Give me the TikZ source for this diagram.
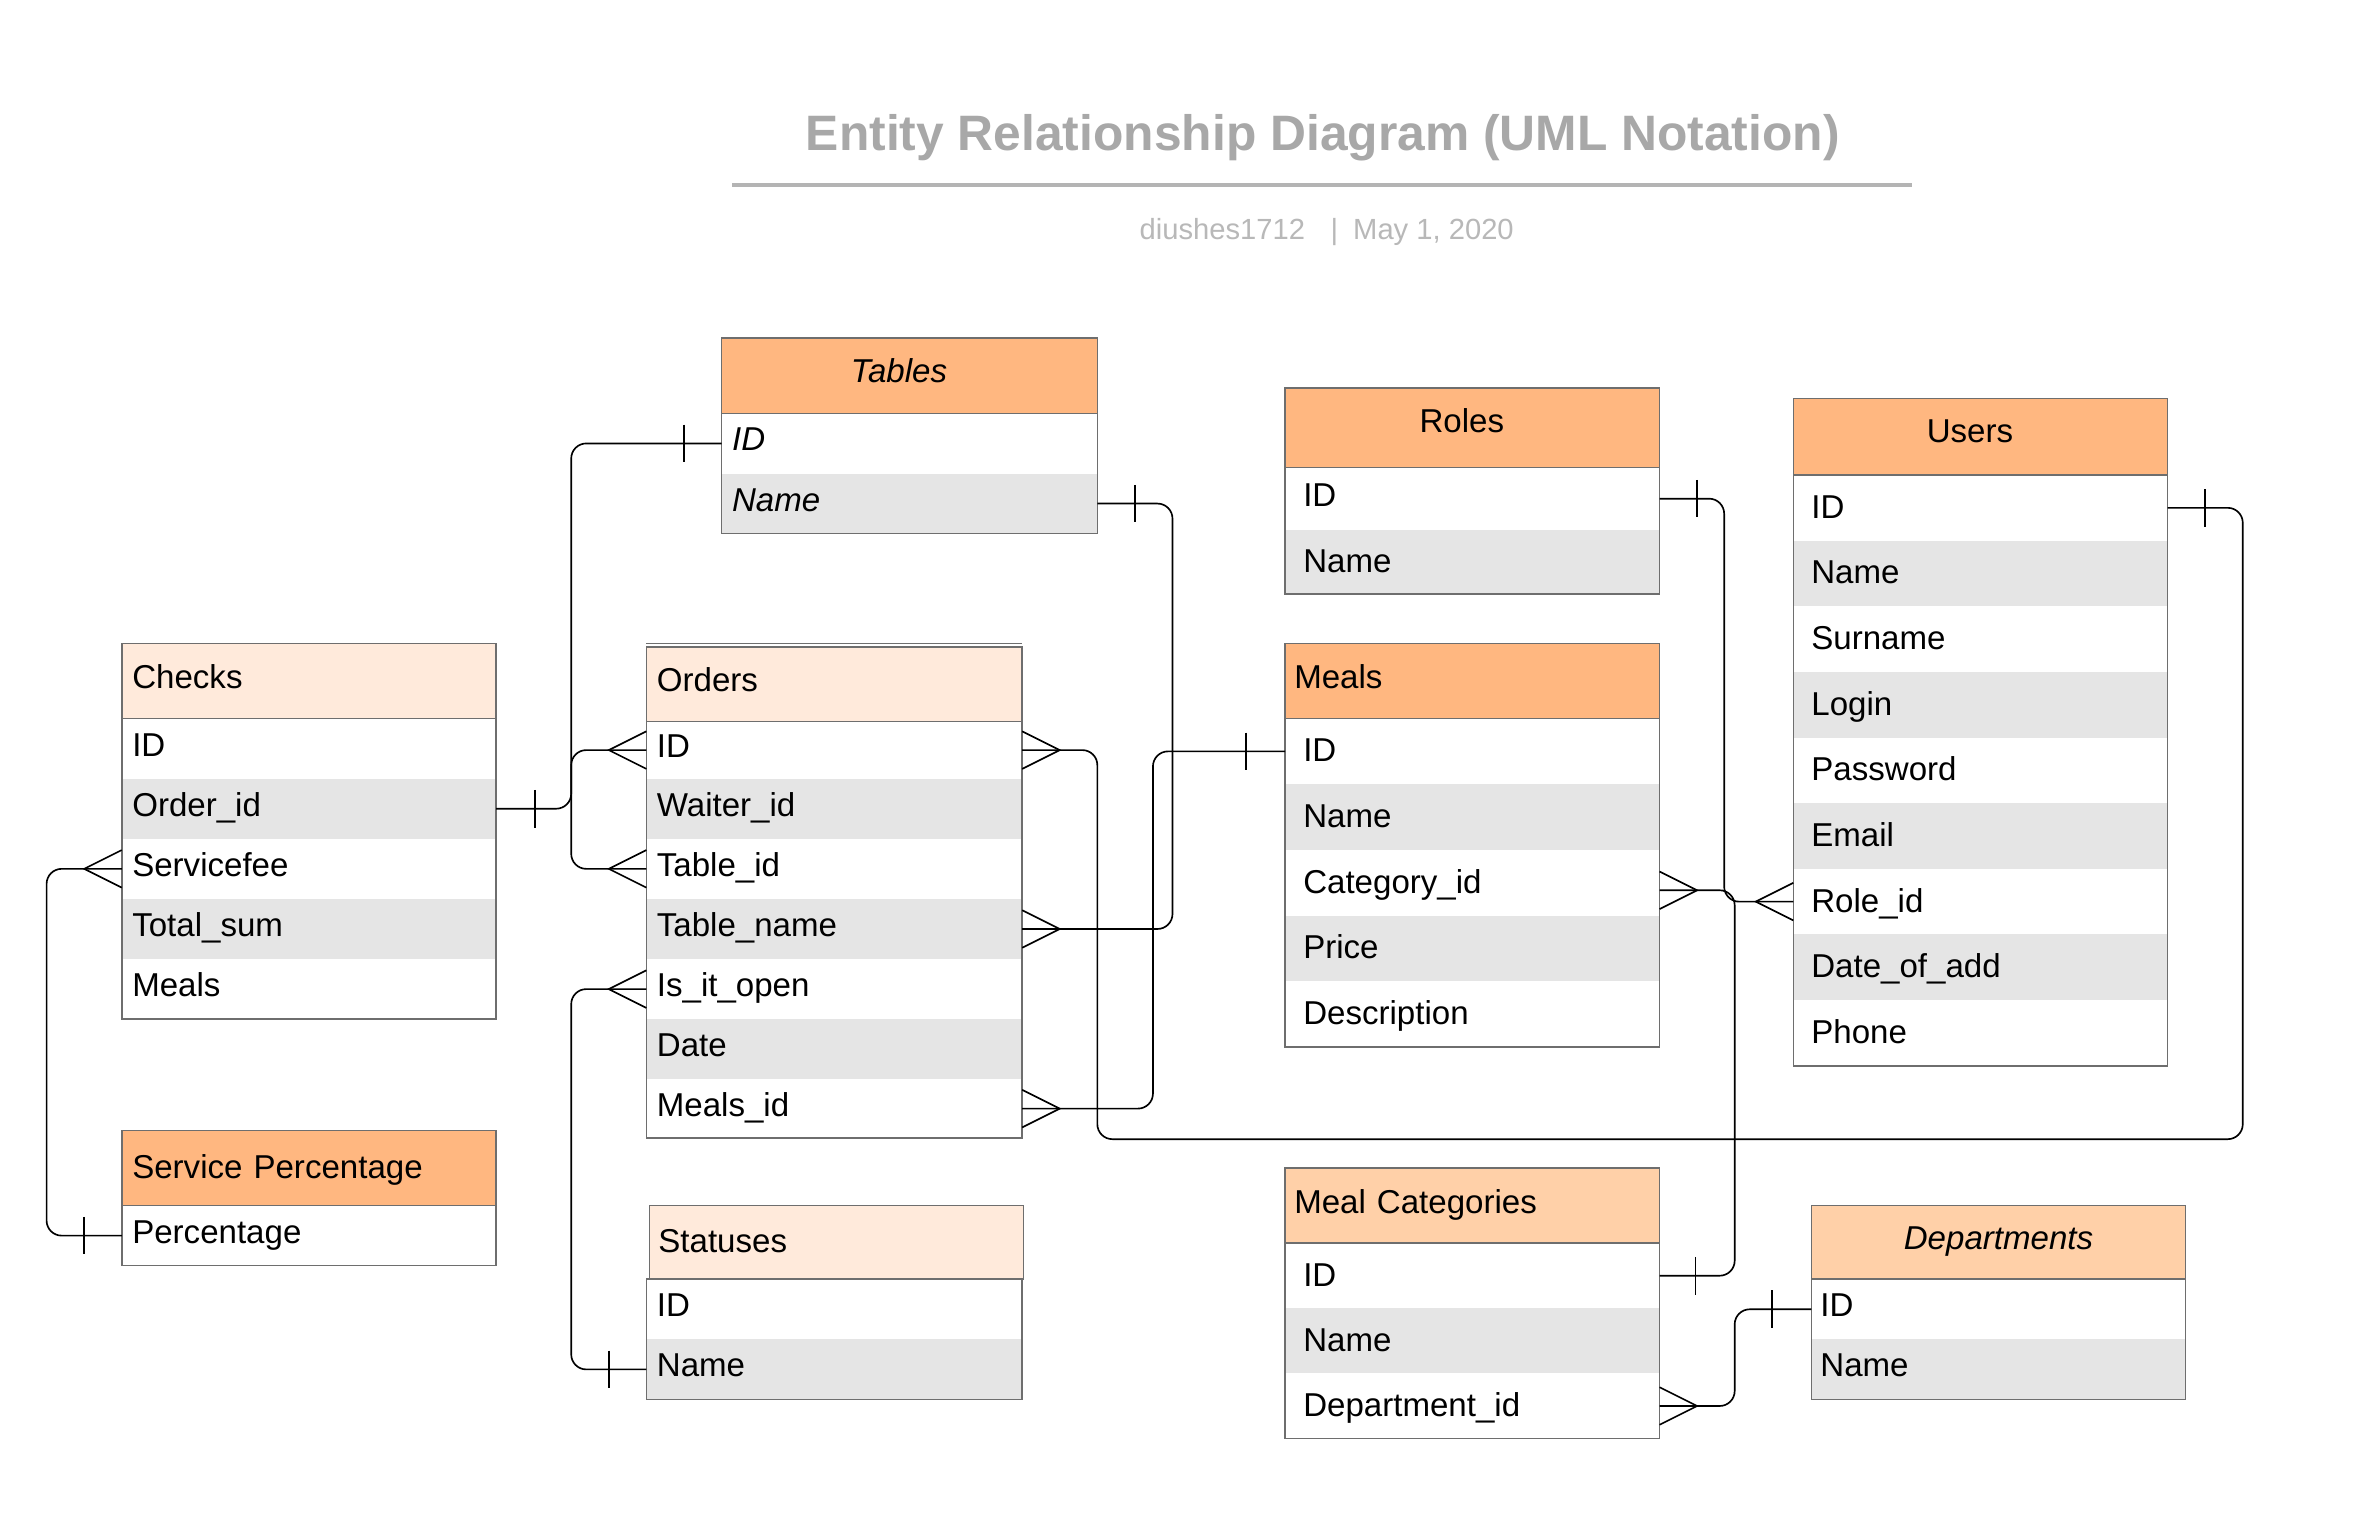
\documentclass[tikz,border=0pt]{standalone}
\usepackage{fontspec}
\setmainfont{Liberation Sans}
\usetikzlibrary{calc}
\definecolor{hdrdark}{RGB}{255,183,128}
\definecolor{hdrmid}{RGB}{255,208,168}
\definecolor{hdrlight}{RGB}{255,234,219}
\definecolor{rowgray}{RGB}{229,229,229}
\definecolor{bordc}{RGB}{110,110,110}
\definecolor{titlec}{RGB}{168,168,168}
\definecolor{subc}{RGB}{184,184,184}
\definecolor{rulec}{RGB}{180,180,180}
\newcommand{\erfont}{\fontsize{22}{26}\selectfont}
\tikzset{
  cell/.code 2 args={\pgfmathsetmacro\cellTW{#1-2*(#2)}\tikzset{minimum width=#1pt, inner xsep=#2pt, text width=\cellTW pt}},
  base/.style={anchor=north west, outer sep=0pt, inner ysep=0pt, text height=16pt, text depth=6pt, font=\erfont, align=left},
  tall/.style={text height=18pt, text depth=4pt},
  hdrbox/.style={base, draw=bordc, line width=1pt},
  rowW/.style={base, fill=white},
  rowG/.style={base, fill=rowgray},
  frame/.style={draw=bordc, line width=1pt},
  conn/.style={draw=black, line width=1.1pt, rounded corners=10pt},
  erm/.style={draw=black, line width=1.1pt},
}
\newcommand{\ERbar}[2]{\draw[erm] ([xshift=#2pt]#1) ++(0,-12.5) -- ++(0,25);}
\newcommand{\ERcrow}[2]{\draw[erm] ([yshift=12.5pt]#1) -- ([xshift=#2pt]#1) -- ([yshift=-12.5pt]#1);}
\newcommand{\shl}{\hspace*{-14pt}}
\begin{document}
\begin{tikzpicture}[x=1pt,y=-1pt]
\fill[white] (0,0) rectangle (1568,1008);
\useasboundingbox (0,0) rectangle (1568,1008);

% Title
\node[anchor=base, font=\fontsize{33.1}{40}\selectfont\bfseries, text=titlec, inner sep=0pt] (title) at (880,100) {Entity Relationship Diagram (UML Notation)};
\draw[rulec, line width=2.5pt] (487,123) -- (1272,123);
\node[anchor=base west, font=\fontsize{19.4}{23}\selectfont, text=subc, inner sep=0pt] (subtitle) at (758,159) {diushes1712\hspace{17pt}|\hspace{10pt}May 1, 2020};

% ---------- Tables ----------
\node[rowW, cell={250}{7}, minimum height=40pt, font=\erfont\itshape] (tables-id) at (480,275) {ID};
\node[rowG, cell={250}{7}, minimum height=40pt, font=\erfont\itshape] (tables-name) at (480,315) {Name};
\draw[frame] (tables-id.north west) rectangle (tables-name.south east);
\node[hdrbox, cell={250}{7}, minimum height=50pt, fill=hdrdark, align=center, font=\erfont\itshape, text height=17pt, text depth=8pt] (tables) at (480,225) {\shl Tables};

% ---------- Roles ----------
\node[rowW, cell={249}{12}, minimum height=41.5pt] (roles-id) at (855,311) {ID};
\node[rowG, cell={249}{12}, minimum height=42.5pt, tall] (roles-name) at (855,352.5) {Name};
\draw[frame] (roles-id.north west) rectangle (roles-name.south east);
\node[hdrbox, cell={249}{12}, minimum height=53pt, fill=hdrdark, align=center, text height=16pt, text depth=9pt] (roles) at (855,258) {\shl Roles};

% ---------- Users ----------
\node[rowW, tall, cell={249}{12}, minimum height=43.67pt] (users-id) at (1193,316) {ID};
\node[rowG, tall, cell={249}{12}, minimum height=43.67pt] (users-name) at (1193,359.67) {Name};
\node[rowW, tall, cell={249}{12}, minimum height=43.67pt] (users-surname) at (1193,403.33) {Surname};
\node[rowG, tall, cell={249}{12}, minimum height=43.67pt] (users-login) at (1193,447) {Login};
\node[rowW, tall, cell={249}{12}, minimum height=43.67pt] (users-pass) at (1193,490.67) {Password};
\node[rowG, tall, cell={249}{12}, minimum height=43.67pt] (users-email) at (1193,534.33) {Email};
\node[rowW, tall, cell={249}{12}, minimum height=43.67pt] (users-roleid) at (1193,578) {Role\_id};
\node[rowG, tall, cell={249}{12}, minimum height=43.67pt] (users-date) at (1193,621.67) {Date\_of\_add};
\node[rowW, tall, cell={249}{12}, minimum height=43.67pt] (users-phone) at (1193,665.33) {Phone};
\draw[frame] (users-id.north west) rectangle (users-phone.south east);
\node[hdrbox, cell={249}{12}, minimum height=51pt, fill=hdrdark, align=center, text height=16pt, text depth=8pt] (users) at (1193,265) {\shl Users};

% ---------- Checks ----------
\node[rowW, cell={249}{7}, minimum height=40pt] (checks-id) at (81,478) {ID};
\node[rowG, cell={249}{7}, minimum height=40pt] (checks-orderid) at (81,518) {Order\_id};
\node[rowW, cell={249}{7}, minimum height=40pt] (checks-fee) at (81,558) {Servicefee};
\node[rowG, cell={249}{7}, minimum height=40pt] (checks-sum) at (81,598) {Total\_sum};
\node[rowW, cell={249}{7}, minimum height=40pt] (checks-meals) at (81,638) {Meals};
\draw[frame] (checks-id.north west) rectangle (checks-meals.south east);
\node[hdrbox, cell={249}{7}, minimum height=50pt, fill=hdrlight] (checks) at (81,428) {Checks};

% ---------- Orders ----------
\node[rowW, cell={250}{7}, minimum height=38pt] (orders-id) at (430,480) {ID};
\node[rowG, cell={250}{7}, minimum height=40pt] (orders-waiter) at (430,518) {Waiter\_id};
\node[rowW, cell={250}{7}, minimum height=40pt] (orders-tableid) at (430,558) {Table\_id};
\node[rowG, cell={250}{7}, minimum height=40pt] (orders-tname) at (430,598) {Table\_name};
\node[rowW, cell={250}{7}, minimum height=40pt] (orders-open) at (430,638) {Is\_it\_open};
\node[rowG, cell={250}{7}, minimum height=40pt] (orders-date) at (430,678) {Date};
\node[rowW, cell={250}{7}, minimum height=39pt] (orders-mealsid) at (430,718) {Meals\_id};
\draw[frame] (orders-id.north west) rectangle (orders-mealsid.south east);
\node[hdrbox, cell={250}{7}, minimum height=49.5pt, fill=hdrlight] (orders) at (430,430.5) {Orders};
\draw[frame] ([yshift=2.5pt]orders.north west) -- ([yshift=2.5pt]orders.north east);

% ---------- Meals ----------
\node[rowW, tall, cell={249}{12}, minimum height=43.7pt] (meals-id) at (855,478) {ID};
\node[rowG, tall, cell={249}{12}, minimum height=43.7pt] (meals-name) at (855,521.7) {Name};
\node[rowW, tall, cell={249}{12}, minimum height=43.7pt] (meals-cat) at (855,565.4) {Category\_id};
\node[rowG, tall, cell={249}{12}, minimum height=43.7pt] (meals-price) at (855,609.1) {Price};
\node[rowW, tall, cell={249}{12}, minimum height=43.7pt] (meals-desc) at (855,652.8) {Description};
\draw[frame] (meals-id.north west) rectangle (meals-desc.south east);
\node[hdrbox, cell={249}{6}, minimum height=50pt, fill=hdrdark] (meals) at (855,428) {Meals};

% ---------- Service Percentage ----------
\node[rowW, cell={249}{7}, minimum height=40pt] (sp-pct) at (81,802) {Percentage};
\draw[frame] (sp-pct.north west) rectangle (sp-pct.south east);
\node[hdrbox, tall, cell={249}{7}, minimum height=50pt, fill=hdrdark] (sp) at (81,752) {Service Percentage};

% ---------- Statuses ----------
\node[rowW, cell={250}{7}, minimum height=40pt] (statuses-id) at (430,851) {ID};
\node[rowG, cell={250}{7}, minimum height=40pt] (statuses-name) at (430,891) {Name};
\draw[frame] (statuses-id.north west) rectangle (statuses-name.south east);
\node[hdrbox, tall, cell={249}{6}, minimum height=49pt, fill=hdrlight] (statuses) at (432,802) {Statuses};

% ---------- Meal Categories ----------
\node[rowW, tall, cell={249}{12}, minimum height=43.33pt] (mc-id) at (855,827) {ID};
\node[rowG, tall, cell={249}{12}, minimum height=43.33pt] (mc-name) at (855,870.33) {Name};
\node[rowW, tall, cell={249}{12}, minimum height=43.33pt] (mc-dept) at (855,913.67) {Department\_id};
\draw[frame] (mc-id.north west) rectangle (mc-dept.south east);
\node[hdrbox, cell={249}{6}, minimum height=50pt, fill=hdrmid] (mc) at (855,777) {Meal Categories};

% ---------- Departments ----------
\node[rowW, cell={249}{6}, minimum height=40pt] (dept-id) at (1205,851) {ID};
\node[rowG, cell={249}{6}, minimum height=40pt] (dept-name) at (1205,891) {Name};
\draw[frame] (dept-id.north west) rectangle (dept-name.south east);
\node[hdrbox, cell={249}{6}, minimum height=49pt, fill=hdrmid, align=center, font=\erfont\itshape] (dept) at (1205,802) {Departments};

% ---------- Connectors ----------
\coordinate (catp) at ([yshift=-5pt]meals-cat.east);
\draw[conn] (checks-orderid.east) -- ++(50,0) |- (orders-id.west);
\draw[conn] (tables-id.west) -- ++(-100,0) |- (orders-tableid.west);
\draw[conn] (tables-name.east) -- ++(50,0) |- (orders-tname.east);
\draw[conn] (meals-id.west) -- ++(-88,0) |- (orders-mealsid.east);
\draw[conn] (orders-id.east) -- ++(50,0) |- ($(users-id.east)+(50,420)$) |- (users-id.east);
\draw[conn] (roles-id.east) -- ++(43,0) |- (users-roleid.west);
\draw[conn] (catp) -- ++(50,0) |- (mc-id.east);
\draw[conn] (mc-dept.east) -- ++(50,0) |- (dept-id.west);
\draw[conn] (orders-open.west) -- ++(-50,0) |- (statuses-name.west);
\draw[conn] (checks-fee.west) -- ++(-50,0) |- (sp-pct.west);

% one-bars
\ERbar{checks-orderid.east}{26}
\ERbar{tables-id.west}{-25}
\ERbar{tables-name.east}{25}
\ERbar{meals-id.west}{-26}
\ERbar{users-id.east}{25}
\ERbar{roles-id.east}{25}
\ERbar{mc-id.east}{24}
\ERbar{dept-id.west}{-26}
\ERbar{statuses-name.west}{-25}
\ERbar{sp-pct.west}{-25}

% crow's feet
\ERcrow{orders-id.west}{-25}
\ERcrow{orders-tableid.west}{-25}
\ERcrow{orders-tname.east}{25}
\ERcrow{orders-mealsid.east}{25}
\ERcrow{orders-id.east}{25}
\ERcrow{users-roleid.west}{-25}
\ERcrow{catp}{25}
\ERcrow{mc-dept.east}{25}
\ERcrow{orders-open.west}{-25}
\ERcrow{checks-fee.west}{-25}
\end{tikzpicture}
\end{document}
